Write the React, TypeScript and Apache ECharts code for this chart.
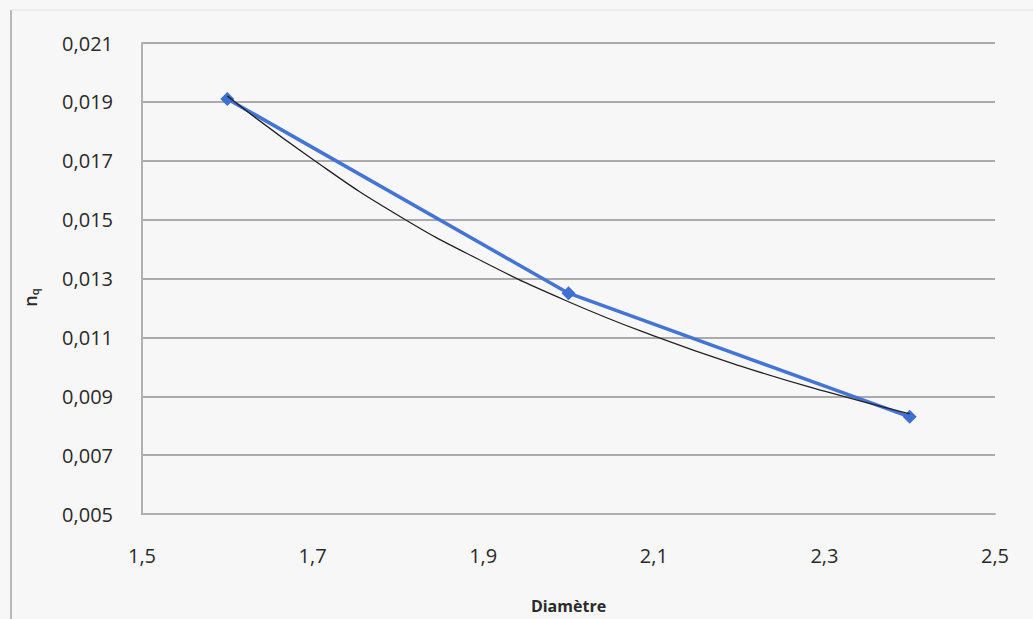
import React, { useEffect, useRef } from "react";
import * as echarts from "echarts";

const diameters = [1.6, 2.0, 2.4];
const nqValues = [0.0191, 0.0125, 0.0083];

// Thin black trend curve
const trendX = [1.6, 1.7, 1.8, 1.9, 2.0, 2.1, 2.2, 2.3, 2.4];
const trendY = [0.0192, 0.01705, 0.01515, 0.01357, 0.01221, 0.01105, 0.01004, 0.00917, 0.0084];

const xMin = 1.5, xMax = 2.5, xStep = 0.2;
const yMin = 0.005, yMax = 0.021, yStep = 0.002;

export default function App() {
  const ref = useRef<HTMLDivElement>(null);
  useEffect(() => {
    const chart = echarts.init(ref.current!, null, { renderer: "svg" });
    const fmt = (d: number) => (v: number) => v.toFixed(d).replace(".", ",");
    chart.setOption({
      animation: false,
      backgroundColor: "#f7f7f7",
      textStyle: { fontFamily: "Open Sans" },
      graphic: [
        { type: "line", shape: { x1: 11, y1: 10, x2: 11, y2: 619 }, style: { stroke: "#b8b8b8", lineWidth: 2 } },
        { type: "line", shape: { x1: 11, y1: 10, x2: 1033, y2: 10 }, style: { stroke: "#e2e2e2", lineWidth: 1 } },
      ],
      grid: { left: 142, right: 38, top: 43, bottom: 105 },
      xAxis: {
        type: "value",
        min: xMin, max: xMax, interval: xStep,
        name: "Diamètre",
        nameLocation: "middle",
        nameGap: 84,
        nameTextStyle: { fontSize: 16, fontWeight: "bold", color: "#2a2a2a" },
        axisLine: { show: true, lineStyle: { color: "#b0b0b0", width: 2 } },
        axisTick: { show: false },
        axisLabel: { formatter: fmt(1), fontSize: 20, color: "#2a2a2a", margin: 31 },
        splitLine: { show: false },
      },
      yAxis: {
        type: "value",
        min: yMin, max: yMax, interval: yStep,
        name: "n{s|q}",
        nameLocation: "middle",
        nameGap: 102,
        nameRotate: 90,
        nameTextStyle: {
          fontSize: 18,
          fontWeight: 600,
          color: "#2a2a2a",
          padding: [0, 38, 0, 0],
          rich: { s: { fontSize: 11, fontWeight: 600, color: "#2a2a2a", padding: [9, 0, 0, 0] } },
        },
        axisLine: { show: true, lineStyle: { color: "#b0b0b0", width: 2 } },
        axisTick: { show: false },
        axisLabel: { formatter: fmt(3), fontSize: 20, color: "#2a2a2a", margin: 29 },
        splitLine: { show: true, lineStyle: { color: "#ababab", width: 2 } },
      },
      series: [
        {
          type: "line",
          data: trendX.map((x, i) => [x, trendY[i]]),
          smooth: true,
          symbol: "none",
          lineStyle: { color: "#222", width: 1.3 },
          z: 3,
        },
        {
          type: "line",
          data: diameters.map((x, i) => [x, nqValues[i]]),
          symbol: "diamond",
          symbolSize: 14,
          itemStyle: { color: "#3f6fd1" },
          lineStyle: { color: "#4474d4", width: 3.5 },
          z: 2,
        },
      ],
    });
    return () => chart.dispose();
  }, []);
  return <div ref={ref} style={{ position: "fixed", left: 0, top: 0, width: 1033, height: 619 }} />;
}
